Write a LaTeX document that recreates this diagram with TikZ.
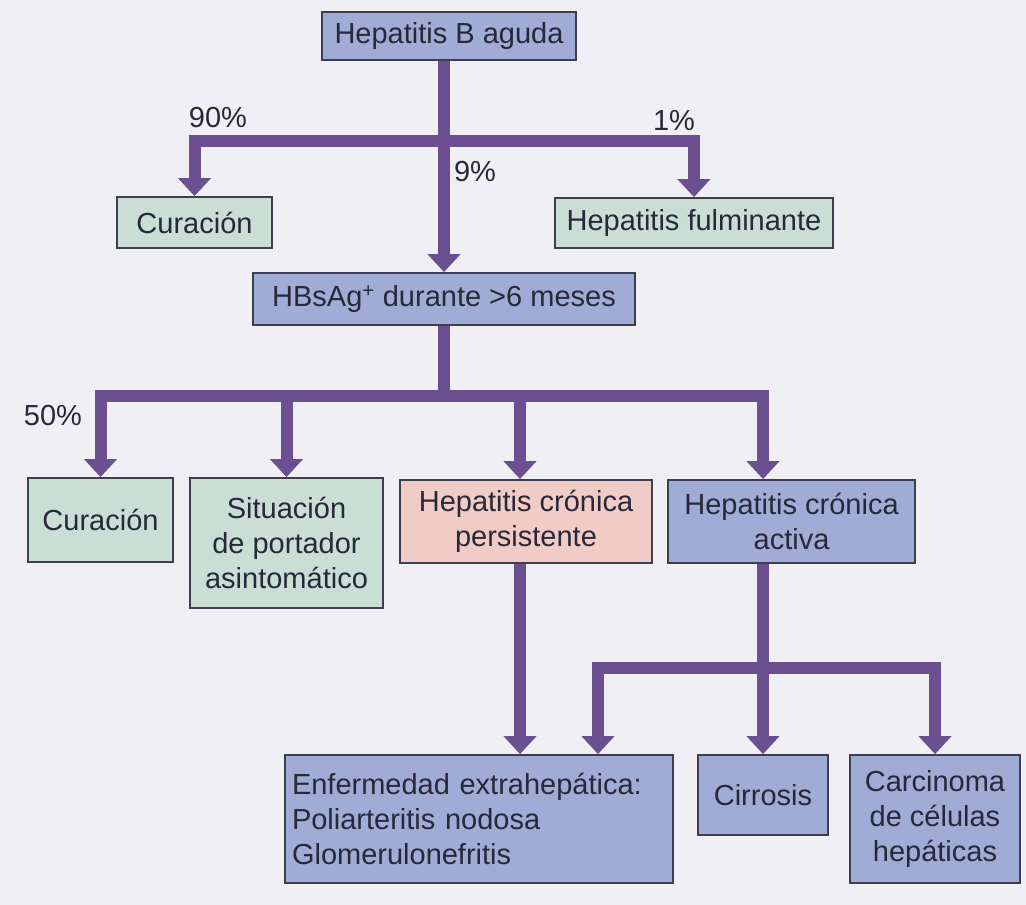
\documentclass[tikz,border=0pt]{standalone}
\usepackage{fontspec}
\setmainfont{Liberation Sans}
\usetikzlibrary{arrows.meta,calc}
\definecolor{bgc}{RGB}{239,239,244}
\definecolor{boxblue}{RGB}{160,171,214}
\definecolor{boxgreen}{RGB}{202,222,214}
\definecolor{boxpink}{RGB}{241,204,199}
\definecolor{arrc}{RGB}{107,79,145}
\definecolor{bordc}{RGB}{62,62,78}
\definecolor{txtc}{RGB}{40,40,56}
\begin{document}
\begin{tikzpicture}[x=1pt,y=-1pt,
  box/.style={draw=bordc, line width=1.8pt, inner sep=0pt, align=center,
    font=\fontsize{29}{35}\selectfont, text=txtc},
  bluebox/.style={box, fill=boxblue},
  greenbox/.style={box, fill=boxgreen},
  pinkbox/.style={box, fill=boxpink},
  flow/.style={draw=arrc, line width=12pt, line join=miter},
  flowarr/.style={flow, -{Triangle[width=32pt,length=18pt]}},
  pct/.style={font=\fontsize{29}{35}\selectfont, text=txtc, inner sep=0pt}]
\fill[bgc] (0,0) rectangle (1026,905);
\useasboundingbox (0,0) rectangle (1026,905);

% boxes
\node[bluebox, minimum width=254pt, minimum height=48pt] (top) at (449,36) {Hepatitis B aguda};
\node[greenbox, minimum width=155pt, minimum height=51pt] (cur1) at (194.5,222.5) {Curación};
\node[greenbox, minimum width=278pt, minimum height=50pt] (fulm) at (694,223) {Hepatitis fulminante};
\node[bluebox, minimum width=382pt, minimum height=52pt] (hbs) at (444,299) {HBsAg\textsuperscript{+} durante >6 meses};

\node[greenbox, minimum width=145pt, minimum height=84pt] (cur2) at (100.5,520) {Curación};
\node[greenbox, minimum width=193pt, minimum height=130pt] (sit) at (286.5,543) {Situación\\de portador\\asintomático};
\node[pinkbox, minimum width=252pt, minimum height=83pt] (pers) at (526,521.5) {Hepatitis crónica\\persistente};
\node[bluebox, minimum width=247pt, minimum height=83pt] (act) at (791.5,521.5) {Hepatitis crónica\\activa};

\node[bluebox, minimum width=388pt, minimum height=128pt, text width=374pt, align=left] (enf) at (479,819) {Enfermedad extrahepática:\\Poliarteritis nodosa\\Glomerulonefritis};
\node[bluebox, minimum width=130pt, minimum height=80pt] (cir) at (763,795) {Cirrosis};
\node[bluebox, minimum width=170pt, minimum height=128pt] (car) at (935,819) {Carcinoma\\de células\\hepáticas};

% labels
\node[pct] (p90) at (218,118) {90\%};
\node[pct] (p1) at (674,121) {1\%};
\node[pct] (p9) at (475,172) {9\%};
\node[pct] (p50) at (53,416) {50\%};

% junctions
\coordinate (j1) at (444,141);
\coordinate (j2) at (444,396);
\coordinate (j3) at (763,668);

% connectors
\draw[flowarr] (top.south -| hbs.north) -- (hbs.north);
\draw[flowarr] (j1) -| (cur1.north);
\draw[flowarr] (j1) -| (fulm.north);

\draw[flow] (hbs.south) -- (j2);
\draw[flowarr] (j2) -| (cur2.north);
\draw[flowarr] (j2) -| (sit.north);
\draw[flowarr] (j2) -| ([xshift=-6pt]pers.north);
\draw[flowarr] (j2) -| ([xshift=-28.5pt]act.north);

\draw[flowarr] ([xshift=-6pt]pers.south) -- ([xshift=-6pt]pers.south |- enf.north);
\draw[flow] ([xshift=-28.5pt]act.south) -- (j3);
\draw[flowarr] (j3) -| ([xshift=119pt]enf.north);
\draw[flowarr] (j3) -- (cir.north);
\draw[flowarr] (j3) -| (car.north);
\end{tikzpicture}
\end{document}
